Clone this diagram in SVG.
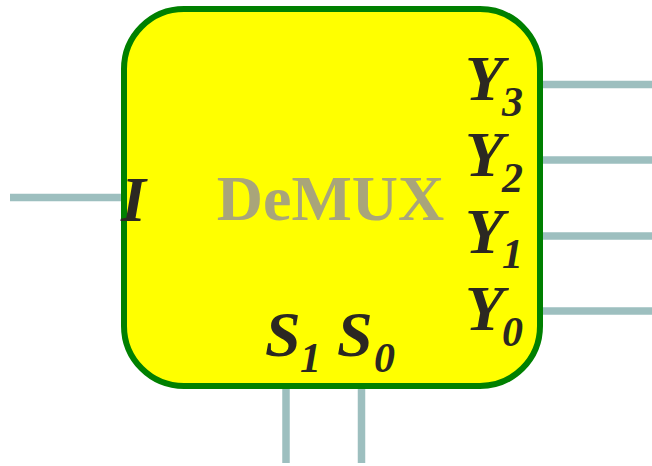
<svg xmlns="http://www.w3.org/2000/svg" width="652" height="466" viewBox="0 0 652 466">
<style>
.wire{stroke:#9DBFBF;stroke-width:7.5;fill:none}
.lbl{font-family:"Liberation Serif",serif;font-weight:bold;font-style:italic;fill:#2B2822;font-size:64px}
.sub{font-size:42px}
.title{font-family:"Liberation Serif",serif;font-weight:bold;fill:#A9A57A;font-size:64px}
</style>
<g id="connectors">
<line class="wire" x1="10" y1="197.5" x2="124" y2="197.5"/>
<line class="wire" x1="540" y1="84.5" x2="652" y2="84.5"/>
<line class="wire" x1="540" y1="160" x2="652" y2="160"/>
<line class="wire" x1="540" y1="236" x2="652" y2="236"/>
<line class="wire" x1="540" y1="311" x2="652" y2="311"/>
<line class="wire" x1="286" y1="389" x2="286" y2="463"/>
<line class="wire" x1="361.5" y1="389" x2="361.5" y2="463"/>
</g>
<g id="demux">
<rect x="124" y="9" width="416" height="377" rx="60" ry="60" fill="#FFFF00" stroke="#008000" stroke-width="6"/>
<text class="title" x="330.5" y="220" text-anchor="middle">DeMUX</text>
<text class="lbl" x="121" y="221">I</text>
<text class="lbl" x="465" y="100">Y<tspan class="sub" x="502" y="116">3</tspan></text>
<text class="lbl" x="465" y="176">Y<tspan class="sub" x="502" y="192">2</tspan></text>
<text class="lbl" x="465" y="253">Y<tspan class="sub" x="502" y="268">1</tspan></text>
<text class="lbl" x="465" y="330">Y<tspan class="sub" x="502" y="346">0</tspan></text>
<text class="lbl" x="265" y="356">S<tspan class="sub" x="300" y="372">1</tspan></text>
<text class="lbl" x="337" y="356">S<tspan class="sub" x="374" y="372">0</tspan></text>
</g>
</svg>
